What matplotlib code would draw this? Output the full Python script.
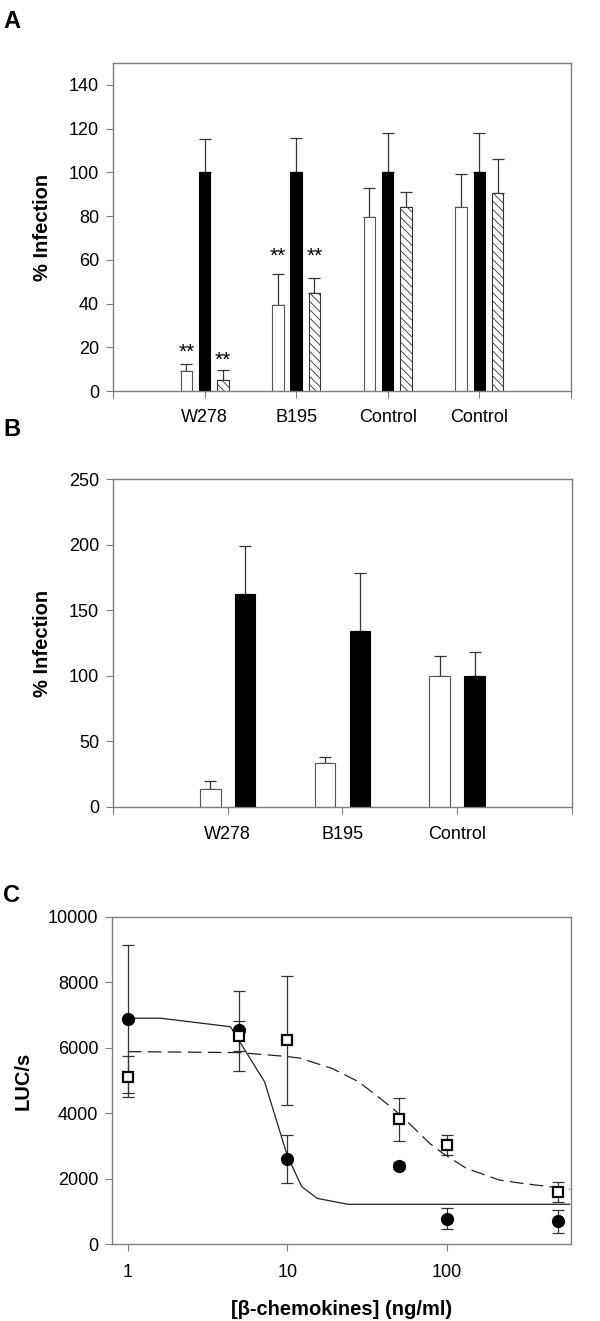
import numpy as np
import matplotlib
matplotlib.use("Agg")
import matplotlib.pyplot as plt

plt.rcParams['font.family'] = ['Liberation Sans', 'DejaVu Sans']
plt.rcParams['hatch.linewidth'] = 0.6

# ---- Panel A data ----
a_groups = ["W278", "B195", "Control", "Control"]
a_white = [9.1, 39.2, 79.6, 84.3]
a_white_err = [3.3, 14.2, 13.4, 15.0]
a_black = [100, 100, 100, 100]
a_black_err = [15.2, 15.6, 18.0, 18.0]
a_hatch = [5.0, 44.7, 84.3, 90.7]
a_hatch_err = [4.6, 6.8, 6.9, 15.6]
# significance marks (bar series, group index, height)
a_stars = [("white", 0, 17.8), ("hatch", 0, 14.2), ("white", 1, 61.4), ("hatch", 1, 61.4)]

# ---- Panel B data ----
b_groups = ["W278", "B195", "Control"]
b_white = [13.2, 33.1, 100]
b_white_err = [6.4, 4.6, 14.8]
b_black = [162.2, 134.4, 100]
b_black_err = [37.1, 43.8, 17.9]

# ---- Panel C data ----
c_conc = [1, 5, 10, 50, 100, 500]
c_circ = [6890, 6540, 2600, 2400, 775, 700]
c_circ_lo = [2260, 1260, 720, 100, 300, 350]
c_circ_hi = [2255, 1190, 720, 100, 320, 360]
c_sq = [5120, 6370, 6230, 3815, 3020, 1590]
c_sq_err = [630, 458, 1970, 660, 310, 315]
# fitted curves as drawn (vertices)
fit_solid_x = [1, 1.6, 4.4, 7.2, 10, 12.3, 15.4, 24, 591]
fit_solid_y = [6900, 6900, 6640, 4960, 2700, 1760, 1400, 1220, 1220]
fit_dash_x = [1, 5, 10, 12, 19, 28, 38, 47, 58, 78, 94, 132, 213, 295, 591]
fit_dash_y = [5880, 5850, 5730, 5680, 5370, 4960, 4460, 4100, 3690, 3080, 2780, 2320, 1960, 1860, 1680]

fig = plt.figure(figsize=(6, 13.21), dpi=100)
frame_col = "#7f7f7f"
err_col = "#333333"


def style_axes(ax, size=13):
    for s in ax.spines.values():
        s.set_color(frame_col)
        s.set_linewidth(1.0)
    ax.tick_params(direction="out", length=5, width=0.8, color=frame_col,
                   labelsize=size)
    ax.tick_params(axis="y", pad=5)


# Panel A
axA = fig.add_axes([0.1883, 0.704, 0.7633, 0.2483])
xa = np.arange(1, len(a_groups) + 1)
w = 0.125
off = 0.2
axA.bar(xa - off, a_white, w, color="white", edgecolor="#555555", linewidth=0.8, zorder=2)
axA.bar(xa, a_black, w, color="black", edgecolor="black", linewidth=0.8, zorder=2)
axA.bar(xa + off, a_hatch, w, color="white", edgecolor="#333333", linewidth=0.8,
        hatch="\\\\\\\\", zorder=2)
for xs, v, e in [(xa - off, a_white, a_white_err), (xa, a_black, a_black_err),
                 (xa + off, a_hatch, a_hatch_err)]:
    axA.errorbar(xs, v, yerr=[np.zeros(len(e)), e], fmt="none", ecolor=err_col,
                 elinewidth=0.9, capsize=4, capthick=0.9, zorder=1)
for series, gi, yv in a_stars:
    xs = xa[gi] - off if series == "white" else xa[gi] + off
    axA.text(xs, yv, "**", ha="center", va="center", fontsize=15)
axA.set_xlim(0, 5)
axA.set_ylim(0, 150)
axA.set_yticks(np.arange(0, 141, 20))
axA.set_xticks(np.arange(0, 6))
axA.set_xticklabels([""] + a_groups + [""])
style_axes(axA)
axA.tick_params(axis="x", pad=8)
axA.set_ylabel("% Infection", fontsize=14.5, fontweight="bold", labelpad=12)

# Panel B
axB = fig.add_axes([0.1883, 0.3893, 0.765, 0.2478])
xb = np.arange(1, len(b_groups) + 1)
wb = 0.18
offb = 0.152
axB.bar(xb - offb, b_white, wb, color="white", edgecolor="#555555", linewidth=0.8, zorder=2)
axB.bar(xb + offb, b_black, wb, color="black", edgecolor="black", linewidth=0.8, zorder=2)
for xs, v, e in [(xb - offb, b_white, b_white_err), (xb + offb, b_black, b_black_err)]:
    axB.errorbar(xs, v, yerr=[np.zeros(len(e)), e], fmt="none", ecolor=err_col,
                 elinewidth=0.9, capsize=4, capthick=0.9, zorder=1)
axB.set_xlim(0, 4)
axB.set_ylim(0, 250)
axB.set_yticks(np.arange(0, 251, 50))
axB.set_xticks(np.arange(0, 5))
axB.set_xticklabels([""] + b_groups + [""])
style_axes(axB)
axB.tick_params(axis="x", pad=9)
axB.set_ylabel("% Infection", fontsize=14.5, fontweight="bold", labelpad=12)

# Panel C
axC = fig.add_axes([0.1872, 0.0581, 0.7645, 0.248])
axC.plot(fit_solid_x, fit_solid_y, "-", color="#222222", lw=0.9, zorder=2)
axC.plot(fit_dash_x, fit_dash_y, "--", color="#222222", lw=0.9, dashes=(11, 5), zorder=2)
axC.errorbar(c_conc, c_circ, yerr=[c_circ_lo, c_circ_hi], fmt="none", ecolor=err_col,
             elinewidth=0.9, capsize=4, capthick=0.9, zorder=1)
axC.errorbar(c_conc, c_sq, yerr=c_sq_err, fmt="none", ecolor=err_col,
             elinewidth=0.9, capsize=4, capthick=0.9, zorder=1)
axC.plot(c_conc, c_circ, "o", ms=8.5, mfc="black", mec="black", ls="none", zorder=3)
axC.plot(c_conc, c_sq, "s", ms=7, mfc="white", mec="black", mew=1.6, ls="none", zorder=4)
axC.set_xscale("log")
axC.set_xlim(0.8, 600)
axC.set_ylim(0, 10000)
axC.set_yticks(np.arange(0, 10001, 2000))
axC.set_xticks([1, 10, 100])
axC.set_xticklabels(["1", "10", "100"])
axC.xaxis.set_minor_locator(matplotlib.ticker.NullLocator())
style_axes(axC, 13)
axC.tick_params(axis="x", pad=9)
axC.set_ylabel("LUC/s", fontsize=14.5, fontweight="bold", labelpad=11)
axC.set_xlabel("[β-chemokines] (ng/ml)", fontsize=14.5, fontweight="bold", labelpad=14)

# panel letters
for lbl, yp in [("A", 21), ("B", 429), ("C", 895)]:
    fig.text(3 / 600, 1 - yp / 1321, lbl, fontsize=17, fontweight="bold",
             ha="left", va="center")

fig.savefig("out.png", dpi=100)
